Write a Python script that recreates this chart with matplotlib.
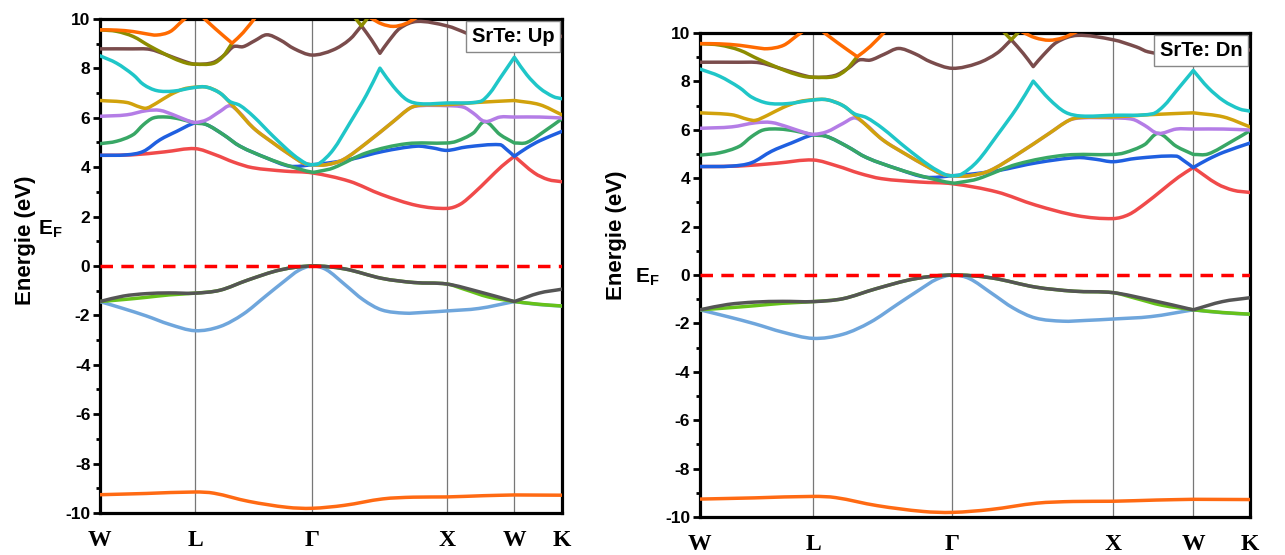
import numpy as np
import matplotlib
matplotlib.use('Agg')
import matplotlib.pyplot as plt
from matplotlib.path import Path
from matplotlib.patches import PathPatch

plt.rcParams['font.family'] = ['Liberation Sans', 'DejaVu Sans']
plt.rcParams['mathtext.fontset'] = 'custom'
plt.rcParams['mathtext.rm'] = 'Liberation Sans:bold'
plt.rcParams['mathtext.bf'] = 'Liberation Sans:bold'
plt.rcParams['axes.unicode_minus'] = False

# high symmetry points (fraction of k-path W-L-G-X-W-K)
kpts = [0.0, 0.206, 0.459, 0.751, 0.897, 1.0]
klabels = ['W', 'L', 'Γ', 'X', 'W', 'K']
corners = [0.286, 0.566, 0.606, 0.897]

# valence bands
tes_k = [0, 0.10, 0.206, 0.247, 0.322, 0.405, 0.459, 0.529, 0.612, 0.678, 0.751, 0.83, 0.897, 1.0]
tes_e = [-9.26, -9.21, -9.15, -9.20, -9.53, -9.77, -9.81, -9.69, -9.43, -9.36, -9.35, -9.30, -9.27, -9.28]

lh_k = [0, 0.05, 0.10, 0.15, 0.206, 0.26, 0.31, 0.36, 0.40, 0.43, 0.459, 0.49, 0.53, 0.57, 0.61, 0.66, 0.70, 0.751, 0.82, 0.897, 0.95, 1.0]
lh_e = [-1.44, -1.72, -2.02, -2.36, -2.62, -2.45, -1.95, -1.20, -0.60, -0.18, 0.0, -0.15, -0.75, -1.37, -1.78, -1.91, -1.88, -1.82, -1.72, -1.44, -1.56, -1.62]

gv_k = [0, 0.05, 0.10, 0.15, 0.206, 0.26, 0.32, 0.39, 0.459, 0.53, 0.61, 0.68, 0.751, 0.79, 0.84, 0.897, 0.95, 1.0]
gv_e = [-1.44, -1.36, -1.27, -1.17, -1.10, -0.98, -0.57, -0.16, 0.0, -0.12, -0.50, -0.67, -0.73, -0.95, -1.25, -1.44, -1.55, -1.62]

hh_k = [0, 0.05, 0.10, 0.15, 0.206, 0.26, 0.32, 0.39, 0.459, 0.53, 0.61, 0.68, 0.751, 0.82, 0.897, 0.95, 1.0]
hh_e = [-1.44, -1.22, -1.12, -1.09, -1.10, -0.98, -0.57, -0.16, 0.0, -0.12, -0.50, -0.67, -0.73, -1.04, -1.44, -1.10, -0.94]

# conduction bands
red_k = [0, 0.07, 0.14, 0.206, 0.25, 0.29, 0.33, 0.40, 0.459, 0.54, 0.61, 0.686, 0.751, 0.78, 0.81, 0.84, 0.87, 0.897, 0.94, 0.97, 1.0]
red_e = [4.48, 4.50, 4.62, 4.75, 4.50, 4.20, 3.98, 3.84, 3.77, 3.43, 2.89, 2.45, 2.33, 2.50, 2.96, 3.50, 4.04, 4.44, 3.77, 3.50, 3.41]

blue_k = [0, 0.058, 0.094, 0.13, 0.166, 0.206, 0.231, 0.267, 0.303, 0.361, 0.411, 0.459, 0.49, 0.541, 0.613, 0.686, 0.72, 0.751, 0.794, 0.866, 0.88, 0.897, 0.924, 0.952, 1.0]
blue_e = [4.48, 4.50, 4.64, 5.11, 5.45, 5.79, 5.72, 5.32, 4.85, 4.37, 4.04, 4.10, 4.16, 4.31, 4.64, 4.85, 4.78, 4.68, 4.82, 4.91, 4.72, 4.44, 4.78, 5.07, 5.45]

green_k = [0, 0.036, 0.072, 0.094, 0.115, 0.144, 0.173, 0.206, 0.231, 0.267, 0.303, 0.361, 0.411, 0.459, 0.476, 0.505, 0.577, 0.664, 0.751, 0.772, 0.808, 0.833, 0.866, 0.897, 0.924, 0.967, 1.0]
green_e = [4.95, 5.05, 5.32, 5.72, 5.99, 6.03, 5.95, 5.79, 5.72, 5.32, 4.85, 4.37, 4.04, 3.80, 3.84, 3.97, 4.58, 4.95, 4.98, 5.05, 5.38, 5.85, 5.32, 4.98, 5.00, 5.52, 5.96]

purple_k = [0, 0.058, 0.101, 0.13, 0.159, 0.188, 0.206, 0.231, 0.26, 0.281, 0.30, 0.332, 0.375, 0.411, 0.44, 0.459, 0.49, 0.527, 0.577, 0.635, 0.671, 0.693, 0.751, 0.787, 0.808, 0.833, 0.866, 0.897, 0.952, 1.0]
purple_e = [6.06, 6.12, 6.29, 6.30, 6.12, 5.90, 5.81, 5.92, 6.26, 6.49, 6.25, 5.59, 4.98, 4.51, 4.17, 4.10, 4.10, 4.31, 4.98, 5.85, 6.39, 6.49, 6.49, 6.43, 6.19, 5.85, 6.03, 6.03, 6.03, 5.99]

gold_k = [0, 0.058, 0.087, 0.101, 0.123, 0.152, 0.18, 0.206, 0.231, 0.26, 0.289, 0.332, 0.375, 0.411, 0.44, 0.459, 0.49, 0.527, 0.577, 0.635, 0.671, 0.693, 0.751, 0.815, 0.897, 0.952, 1.0]
gold_e = [6.70, 6.62, 6.43, 6.39, 6.60, 6.93, 7.16, 7.24, 7.24, 7.00, 6.46, 5.59, 4.98, 4.51, 4.17, 4.10, 4.10, 4.31, 4.98, 5.85, 6.39, 6.51, 6.53, 6.62, 6.70, 6.53, 6.12]

cyan_k = [0, 0.036, 0.072, 0.094, 0.123, 0.159, 0.206, 0.231, 0.26, 0.281, 0.303, 0.332, 0.375, 0.418, 0.447, 0.459, 0.476, 0.505, 0.541, 0.577, 0.606, 0.635, 0.664, 0.693, 0.751, 0.823, 0.844, 0.866, 0.897, 0.924, 0.952, 0.981, 1.0]
cyan_e = [8.51, 8.21, 7.74, 7.35, 7.10, 7.08, 7.23, 7.24, 7.00, 6.66, 6.50, 6.06, 5.25, 4.51, 4.14, 4.10, 4.17, 4.71, 5.79, 6.93, 8.01, 7.27, 6.73, 6.57, 6.60, 6.66, 7.00, 7.60, 8.45, 7.74, 7.20, 6.86, 6.77]

brown_k = [0, 0.07, 0.108, 0.144, 0.18, 0.206, 0.245, 0.27, 0.289, 0.31, 0.335, 0.361, 0.39, 0.42, 0.459, 0.505, 0.541, 0.566, 0.588, 0.606, 0.624, 0.649, 0.686, 0.751, 0.794, 0.815, 0.897, 1.0]
brown_e = [8.79, 8.79, 8.77, 8.55, 8.30, 8.17, 8.24, 8.55, 8.88, 8.88, 9.12, 9.36, 9.15, 8.80, 8.54, 8.75, 9.18, 9.72, 9.15, 8.61, 9.08, 9.62, 9.90, 9.72, 9.42, 9.22, 8.90, 9.30]

olive_k = [0, 0.036, 0.072, 0.108, 0.159, 0.188, 0.206, 0.245, 0.266, 0.286, np.nan, 0.552, 0.566, 0.58]
olive_e = [9.56, 9.50, 9.29, 8.90, 8.41, 8.21, 8.17, 8.20, 8.48, 9.02, np.nan, 10.05, 9.72, 10.05]

orange_k = [0, 0.036, 0.072, 0.10, 0.123, 0.152, 0.177, 0.192, np.nan, 0.215, 0.25, 0.286, 0.31, 0.34, np.nan, 0.585, 0.61, 0.635, 0.66, 0.685]
orange_e = [9.56, 9.55, 9.49, 9.40, 9.35, 9.49, 9.90, 10.15, np.nan, 10.20, 9.60, 9.02, 9.45, 10.15, np.nan, 10.05, 9.80, 9.70, 9.80, 10.05]

bands = [
    (tes_k, tes_e, '#ff6a13'),
    (lh_k, lh_e, '#6fa6dc'),
    (gv_k, gv_e, '#66c21a'),
    (hh_k, hh_e, '#555555'),
    (red_k, red_e, '#f04a4a'),
    (blue_k, blue_e, '#1f5fe0'),
    (green_k, green_e, '#38a765'),
    (purple_k, purple_e, '#b47de6'),
    (gold_k, gold_e, '#d1a20c'),
    (cyan_k, cyan_e, '#1fc6c8'),
    (brown_k, brown_e, '#7a4c4c'),
    (olive_k, olive_e, '#8c8c00'),
    (orange_k, orange_e, '#ff6a00'),
]


def smooth_path(k, e):
    # cubic hermite curves through the read points, sharp at corner points
    k = np.asarray(k, float)
    e = np.asarray(e, float)
    verts, codes = [], []
    breaks = np.where(np.isnan(k))[0]
    starts = np.concatenate([[0], breaks + 1])
    ends = np.concatenate([breaks, [len(k)]])
    for s, t in zip(starts, ends):
        x = k[s:t]
        y = e[s:t]
        n = len(x)
        sec = np.diff(y) / np.diff(x)
        mL = np.empty(n)
        mR = np.empty(n)
        for i in range(n):
            if i == 0:
                m = sec[0]
            elif i == n - 1:
                m = sec[-1]
            else:
                m = (y[i + 1] - y[i - 1]) / (x[i + 1] - x[i - 1])
            mL[i] = m
            mR[i] = m
            if 0 < i < n - 1 and any(abs(x[i] - c) < 1e-6 for c in corners):
                mL[i] = sec[i - 1]
                mR[i] = sec[i]
        verts.append((x[0], y[0]))
        codes.append(Path.MOVETO)
        for i in range(n - 1):
            dx = x[i + 1] - x[i]
            verts.append((x[i] + dx / 3, y[i] + mR[i] * dx / 3))
            verts.append((x[i + 1] - dx / 3, y[i + 1] - mL[i + 1] * dx / 3))
            verts.append((x[i + 1], y[i + 1]))
            codes += [Path.CURVE4, Path.CURVE4, Path.CURVE4]
    return Path(verts, codes)


def draw_panel(ax, tag):
    for kp in kpts[1:-1]:
        ax.axvline(kp, color='#777777', lw=0.9, zorder=1)
    for bk, be, col in bands:
        patch = PathPatch(smooth_path(bk, be), fill=False, edgecolor=col,
                          lw=2.5, capstyle='round', joinstyle='round', zorder=3)
        ax.add_patch(patch)
    ax.axhline(0, color='#ff0000', lw=2.5, linestyle=(0, (3.6, 2.4)), zorder=4)
    ax.set_xlim(0, 1)
    ax.set_ylim(-10, 10)
    ax.set_yticks(np.arange(-10, 11, 2))
    ax.set_yticks(np.arange(-9, 10, 2), minor=True)
    ax.tick_params(axis='y', which='major', direction='out', length=5, width=2,
                   labelsize=12.5, pad=2)
    ax.tick_params(axis='y', which='minor', direction='out', length=3, width=2)
    for lab in ax.get_yticklabels():
        lab.set_fontweight('bold')
    ax.set_xticks(kpts)
    ax.set_xticklabels(klabels, fontfamily='Liberation Serif', fontweight='bold', fontsize=17)
    ax.tick_params(axis='x', length=0, pad=12)
    for sp in ax.spines.values():
        sp.set_linewidth(2.3)
    ax.annotate('SrTe: ' + tag, xy=(1, 1), xycoords='axes fraction',
                xytext=(-5.5, -5.5), textcoords='offset points', ha='right', va='top',
                fontsize=14.5, fontweight='bold', zorder=10,
                bbox=dict(boxstyle='square,pad=0.3', fc='white', ec='#888888', lw=1))


fig = plt.figure(figsize=(12.85, 5.55), dpi=100)
ax1 = fig.add_axes([0.0778, 0.0757, 0.3595, 0.8901])
ax2 = fig.add_axes([0.5447, 0.0685, 0.4280, 0.8721])
draw_panel(ax1, 'Up')
draw_panel(ax2, 'Dn')

fig.text(0.0195, 0.567, 'Energie (eV)', rotation=90, ha='center', va='center',
         fontsize=16, fontweight='bold')
fig.text(0.480, 0.577, 'Energie (eV)', rotation=90, ha='center', va='center',
         fontsize=16, fontweight='bold')
fig.text(0.039, 0.586, r'$\mathbf{E_F}$', ha='center', va='center', fontsize=15)
fig.text(0.504, 0.501, r'$\mathbf{E_F}$', ha='center', va='center', fontsize=15)

fig.savefig('out.png', dpi=100)
